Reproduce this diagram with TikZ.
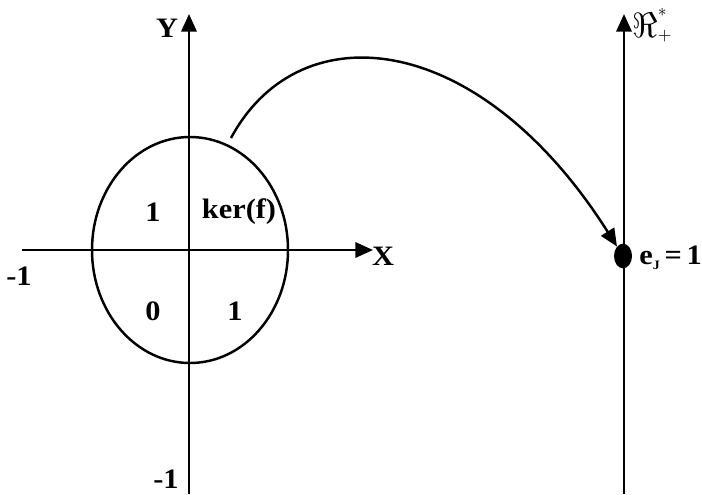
\documentclass[tikz,border=0pt]{standalone}
\usepackage{fontspec}
\setmainfont{Liberation Serif}[FakeStretch=1.08]
\usetikzlibrary{arrows.meta,shapes.geometric}
\begin{document}
\begin{tikzpicture}[x=0.03cm, y=-0.03cm,
    lbl/.style={font=\fontsize{24}{28}\selectfont\bfseries, inner sep=1pt},
    axis/.style={line width=2.1pt, -{Triangle[length=15pt,width=13pt]}},
    line/.style={line width=2.1pt}
  ]
  \useasboundingbox (0,0) rectangle (702,494);

  % axes of the plane
  \coordinate (xs) at (22,250);
  \coordinate (xe) at (373,250);
  \coordinate (ys) at (189,494);
  \coordinate (ye) at (189,14);
  \draw[axis] (xs) -- (xe);
  \draw[axis] (ys) -- (ye);
  \node[lbl] (xl) at (383,256) {X};
  \node[lbl] (yl) at (167,28) {Y};
  \node[lbl] (xm) at (19,276) {-1};
  \node[lbl] (ym) at (166,479) {-1};

  % the disc
  \node[line, draw, ellipse, minimum width=5.88cm, minimum height=6.78cm, inner sep=0pt] (disc) at (190,250) {};
  \node[lbl] (q2) at (153,212) {1};
  \node[lbl] (q1) at (239,212) {ker(f)};
  \node[lbl] (q3) at (153,311) {0};
  \node[lbl] (q4) at (235,311) {1};

  % the positive reals
  \coordinate (rs) at (624,494);
  \coordinate (re) at (624,14);
  \draw[axis] (rs) -- (re);
  \node[anchor=west, inner sep=1pt] (rl) at (631,25) {$\scalebox{3}{$\Re$}^{\scalebox{1.5}{$*$}}_{\scalebox{1.5}{$+$}}$};
  \node[fill, ellipse, minimum width=0.54cm, minimum height=0.74cm, inner sep=0pt] (eJ) at (623,256) {};
  \node[lbl, anchor=east, inner sep=0pt] (el) at (702,258) {e{\raisebox{-0.4ex}{\fontsize{11}{12}\selectfont J}}\,=\,1};

  % the map
  \coordinate (ms) at (231,138);
  \draw[line, -{Triangle[length=15pt,width=13pt]}] (ms) .. controls (300,10) and (480,30) .. (eJ);
\end{tikzpicture}
\end{document}
